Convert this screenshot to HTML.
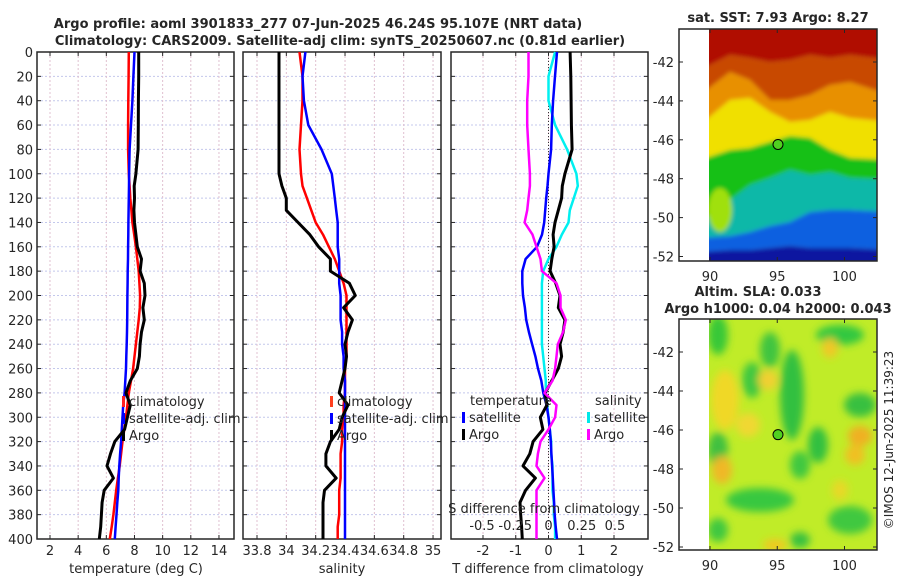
<!DOCTYPE html>
<html><head><meta charset="utf-8"><style>
body{margin:0;background:#fff;width:900px;height:580px;overflow:hidden;font-family:"DejaVu Sans","Liberation Sans",sans-serif}
svg text{font-family:"DejaVu Sans","Liberation Sans",sans-serif;fill:#262626}
</style></head><body>
<svg id="chart" width="900" height="580" viewBox="0 0 900 580">
<defs>
<filter id="blur" x="-10%" y="-10%" width="120%" height="120%"><feGaussianBlur stdDeviation="4"/></filter>
<filter id="blur2" x="-10%" y="-10%" width="120%" height="120%"><feGaussianBlur stdDeviation="2"/></filter>
<clipPath id="clip2"><rect x="709" y="319" width="168" height="231"/></clipPath>
<clipPath id="clip1"><rect x="709" y="29" width="168" height="232"/></clipPath>
</defs>
<text x="318" y="28" font-size="13" font-weight="bold" text-anchor="middle">Argo profile: aoml 3901833_277 07-Jun-2025 46.24S 95.107E (NRT data)</text>
<text x="340" y="45" font-size="13" font-weight="bold" text-anchor="middle">Climatology: CARS2009. Satellite-adj clim: synTS_20250607.nc (0.81d earlier)</text>
<g id="p1"></g>
<g id="p2"></g>
<g id="p3"></g>
<g id="m1"></g>
<g id="m2"></g>
<text x="893" y="440" font-size="12" text-anchor="middle" transform="rotate(-90 893 440)">©IMOS 12-Jun-2025 11:39:23</text>
</svg>
<script>
const depths=[0,20,40,60,80,100,110,120,130,140,150,160,170,180,190,200,210,220,230,240,250,260,270,280,290,300,310,320,330,340,350,360,370,380,390,400];
const tClim=[7.6,7.58,7.56,7.55,7.55,7.6,7.65,7.7,7.78,7.85,7.98,8.1,8.2,8.3,8.35,8.4,8.38,8.3,8.2,8.1,8.0,7.9,7.75,7.6,7.5,7.4,7.28,7.15,7.05,6.95,6.82,6.7,6.6,6.5,6.38,6.25];
const tSat=[8.0,7.92,7.85,7.75,7.65,7.62,7.61,7.6,7.58,7.57,7.56,7.55,7.54,7.52,7.51,7.5,7.49,7.48,7.47,7.45,7.42,7.4,7.35,7.3,7.2,7.15,7.1,7.05,6.98,6.92,6.88,6.85,6.78,6.72,6.66,6.6];
const tArgo=[8.3,8.3,8.28,8.27,8.26,8.1,7.98,8.0,7.96,8.0,8.1,8.2,8.5,8.4,8.7,8.75,8.6,8.7,8.5,8.4,8.35,8.2,7.7,7.4,7.7,7.5,7.3,6.6,6.3,6.05,6.5,5.85,5.7,5.65,5.6,5.5];
const sClim=[34.09,34.11,34.11,34.10,34.09,34.10,34.11,34.14,34.17,34.20,34.25,34.29,34.33,34.36,34.39,34.41,34.41,34.41,34.41,34.41,34.41,34.40,34.40,34.40,34.39,34.39,34.38,34.38,34.37,34.37,34.37,34.36,34.36,34.36,34.35,34.35];
const sSat=[34.13,34.11,34.12,34.15,34.24,34.31,34.32,34.33,34.34,34.35,34.35,34.35,34.36,34.36,34.36,34.37,34.37,34.37,34.38,34.38,34.39,34.39,34.40,34.40,34.40,34.40,34.40,34.40,34.40,34.40,34.40,34.40,34.40,34.40,34.40,34.40];
const sArgo=[33.95,33.95,33.95,33.95,33.95,33.95,33.97,34.0,34.0,34.08,34.16,34.22,34.3,34.3,34.43,34.47,34.39,34.45,34.42,34.40,34.41,34.40,34.38,34.36,34.42,34.38,34.36,34.30,34.27,34.27,34.34,34.26,34.25,34.25,34.25,34.25];
const dTSat=[0.26,0.2,0.14,0.1,0.08,0.0,-0.03,-0.07,-0.1,-0.13,-0.2,-0.35,-0.7,-0.8,-0.8,-0.78,-0.72,-0.68,-0.6,-0.5,-0.4,-0.32,-0.22,-0.16,-0.06,0.0,0.04,0.07,0.09,0.11,0.13,0.15,0.17,0.19,0.22,0.26];
const dTArgo=[0.66,0.68,0.69,0.7,0.72,0.5,0.42,0.4,0.3,0.2,0.14,0.17,0.1,0.05,0.22,0.35,0.3,0.5,0.45,0.35,0.4,0.3,0.1,-0.1,-0.05,-0.25,-0.17,-0.47,-0.57,-0.78,-0.4,-0.7,-0.87,-0.85,-0.82,-0.8];
const dSSat=[0.05,0.0,0.0,0.05,0.14,0.21,0.22,0.19,0.16,0.15,0.1,0.06,0.0,-0.04,-0.05,-0.05,-0.05,-0.05,-0.05,-0.05,-0.04,-0.03,-0.02,-0.02,-0.01,0.0,0.01,0.02,0.02,0.03,0.03,0.03,0.04,0.04,0.05,0.05];
const dSArgo=[-0.15,-0.15,-0.16,-0.16,-0.15,-0.14,-0.14,-0.15,-0.16,-0.18,-0.12,-0.09,-0.06,-0.05,0.06,0.09,0.09,0.13,0.11,0.07,0.06,0.05,0.03,-0.03,0.06,0.05,0.0,-0.06,-0.08,-0.09,-0.03,-0.09,-0.09,-0.09,-0.09,-0.09];
const depthTicks=[0,20,40,60,80,100,120,140,160,180,200,220,240,260,280,300,320,340,360,380,400];
const tTicks=[2,4,6,8,10,12,14];
const sTicks=[33.8,34,34.2,34.4,34.6,34.8,35];
const sTickLabels=["33.8","34","34.2","34.4","34.6","34.8","35"];
const dTTicks=[-2,-1,0,1,2];
const dSTicks=[-0.5,-0.25,0,0.25,0.5];
const NS='http://www.w3.org/2000/svg';
function mk(p,tag,at){const e=document.createElementNS(NS,tag);for(const k in at)e.setAttribute(k,at[k]);p.appendChild(e);return e;}
const yD=d=>52+d*1.2175;
function panel(g,x0,x1,xs,ticks,labels,showY){
  for(const d of depthTicks){
    const l=mk(g,'line',{x1:x0,x2:x1,y1:yD(d),y2:yD(d),stroke:'#c4c8ec','stroke-dasharray':'2,2','stroke-width':1});
    
    mk(g,'line',{x1:x0,x2:x0+4,y1:yD(d),y2:yD(d),stroke:'#262626'});
    mk(g,'line',{x1:x1-4,x2:x1,y1:yD(d),y2:yD(d),stroke:'#262626'});
    if(showY){const t=mk(g,'text',{x:x0-4,y:yD(d)+5,'font-size':13,'text-anchor':'end'});t.textContent=d;
      }
  }
  ticks.forEach((v,i)=>{const x=xs(v);
    const l=mk(g,'line',{x1:x,x2:x,y1:52,y2:539,stroke:'#e0c0d0','stroke-dasharray':'2,2'});
    
    mk(g,'line',{x1:x,x2:x,y1:535,y2:539,stroke:'#262626'});mk(g,'line',{x1:x,x2:x,y1:52,y2:56,stroke:'#262626'});
    if(labels){const t=mk(g,'text',{x:x,y:555,'font-size':13,'text-anchor':'middle'});t.textContent=labels[i];
      }
  });
  const r=mk(g,'rect',{x:x0,y:52,width:x1-x0,height:487,fill:'none',stroke:'#262626','stroke-width':1.5});
  
}
function line(g,xs,vals,col,w,name){
  const pts=vals.map((v,i)=>xs(v).toFixed(1)+','+yD(depths[i]).toFixed(1)).join(' ');
  const p=mk(g,'polyline',{points:pts,fill:'none',stroke:col,'stroke-width':w,'stroke-linejoin':'round'});
  
}
function leg(g,x,y,col,txt){
  mk(g,'rect',{x:x,y:y-10,width:3,height:11,fill:col});
  const t=mk(g,'text',{x:x+7,y:y,'font-size':13});t.textContent=txt;
  
}
function txt(g,x,y,s,name,anchor,size){const t=mk(g,'text',{x:x,y:y,'font-size':size||13,'text-anchor':anchor||'middle'});t.textContent=s;
  }
// panel 1
const p1=document.getElementById('p1');const xT=t=>50+(t-2)*14.08;
panel(p1,37,234,xT,tTicks,tTicks,true);
line(p1,xT,tClim,'#ff0000',2.5,'climatology-line');
line(p1,xT,tSat,'#0000ff',2.5,'satellite-adj-line');
line(p1,xT,tArgo,'#000000',3,'argo-line');
leg(p1,122,406,'#ff2020','climatology');leg(p1,122,423,'#0000ff','satellite-adj. clim');leg(p1,122,440,'#000','Argo');
txt(p1,136,573,'temperature (deg C)','x-axis-title');
// panel 2
const p2=document.getElementById('p2');const xS=s=>257+(s-33.8)*146.7;
panel(p2,243,441,xS,sTicks,sTickLabels,false);
line(p2,xS,sClim,'#ff0000',2.5,'climatology-line');
line(p2,xS,sSat,'#0000ff',2.5,'satellite-adj-line');
line(p2,xS,sArgo,'#000000',3,'argo-line');
leg(p2,330,406,'#ff4020','climatology');leg(p2,330,423,'#0000ff','satellite-adj. clim');leg(p2,330,440,'#000','Argo');
txt(p2,342,573,'salinity','x-axis-title');
// panel 3
const p3=document.getElementById('p3');const xdT=v=>548.5+v*32.75;const xdS=v=>548.5+v*133;
panel(p3,451,648,xdT,dTTicks,dTTicks,false);
mk(p3,'line',{x1:548.5,x2:548.5,y1:52,y2:539,stroke:'#333','stroke-dasharray':'1,2'});
line(p3,xdS,dSSat,'#00f0f0',2.5,'salinity-satellite-diff-line');
line(p3,xdT,dTSat,'#0000ff',2.5,'temperature-satellite-diff-line');
line(p3,xdT,dTArgo,'#000000',3,'temperature-argo-diff-line');
line(p3,xdS,dSArgo,'#ff00ff',2.5,'salinity-argo-diff-line');
txt(p3,470,405,'temperature','legend-title','start');txt(p3,595,405,'salinity','legend-title','start');
leg(p3,462,422,'#0000ff','satellite');leg(p3,462,439,'#000','Argo');
leg(p3,587,422,'#00e8e8','satellite');leg(p3,587,439,'#ff00ff','Argo');
txt(p3,544,513,'S difference from climatology','s-axis-title');
dSTicks.forEach(v=>txt(p3,xdS(v),530,String(v),'s-tick-label'));
txt(p3,548,573,'T difference from climatology','x-axis-title');
// maps
function mapFrame(g,y0,y1,latY){
  const r=mk(g,'rect',{x:679,y:y0,width:198,height:y1-y0,fill:'none',stroke:'#262626','stroke-width':1.5});
  
  [-42,-44,-46,-48,-50,-52].forEach(l=>{const y=latY(l);mk(g,'line',{x1:679,x2:683,y1:y,y2:y,stroke:'#262626'});mk(g,'line',{x1:873,x2:877,y1:y,y2:y,stroke:'#262626'});
    txt(g,674,y+5,String(l),'lat-tick-label','end');});
  [90,95,100].forEach(l=>{const x=710+(l-90)*13.45;mk(g,'line',{x1:x,x2:x,y1:y1-4,y2:y1,stroke:'#262626'});mk(g,'line',{x1:x,x2:x,y1:y0,y2:y0+4,stroke:'#262626'});
    txt(g,x,y1+20,String(l),'lon-tick-label');});
}
const m1=document.getElementById('m1');
const m1in=mk(m1,'g',{'clip-path':'url(#clip1)'});
const m1b=mk(m1in,'g',{filter:'url(#blur2)'});
const bandColors=['#b00800','#c84800','#e89000','#f0e000','#18c018','#10b8a8','#1060e0','#0818a0'];
const bandEdges=[[20,20,20,20,20,20,20,20,20],[70,55,58,62,60,55,58,55,60],[95,72,80,100,100,95,85,82,95],[125,100,98,112,122,120,112,118,122],[160,150,148,142,136,138,150,158,160],[222,200,185,178,170,175,172,178,180],[238,236,232,226,222,212,210,210,212],[252,250,250,248,246,248,248,248,250],[270,270,270,270,270,270,270,270,270]];
const bandX=[700,730,750,770,790,810,830,850,890];
for(let b=0;b<8;b++){
  const top=bandX.map((x,i)=>x+','+bandEdges[b][i]).join(' ');
  const bot=bandX.slice().reverse().map((x,i)=>x+','+bandEdges[b+1][8-i]).join(' ');
  const p=mk(m1b,'polygon',{points:top+' '+bot,fill:bandColors[b]});
  
}
mk(m1b,'ellipse',{cx:720,cy:210,rx:12,ry:22,fill:'#a0e010'});
const lat1=l=>62+(-42-l)*19.45;
mapFrame(m1,29,261,lat1);
txt(m1,778,22,'sat. SST: 7.93 Argo: 8.27','map-title',null,13);
m1.lastChild.setAttribute('font-weight','bold');
const c1=mk(m1,'circle',{cx:778,cy:lat1(-46.24),r:5,fill:'#50d020',stroke:'#000'});

const m2=document.getElementById('m2');
const m2in=mk(m2,'g',{'clip-path':'url(#clip2)'});
mk(m2in,'rect',{x:709,y:319,width:168,height:231,fill:'#c0ec28'});
const m2b=mk(m2in,'g',{filter:'url(#blur)'});
const blobs=[[718,335,10,20,'#38c838'],[752,380,10,18,'#40c840'],[770,350,10,18,'#40c440'],[792,395,12,45,'#30c040'],[840,335,24,10,'#30c840'],[860,405,16,12,'#38c040'],[718,450,10,18,'#40c040'],[818,445,10,18,'#30c040'],[760,500,34,12,'#38c840'],[850,520,22,14,'#40c840'],[718,530,10,12,'#40c840'],[800,465,10,14,'#40c840'],[800,540,10,8,'#38c040']];
const yBlobs=[[725,400,14,30,'#f0d828'],[748,425,12,12,'#f0d830'],[768,380,10,10,'#f0d030'],[830,348,8,10,'#f0c828'],[860,436,12,10,'#f0b020'],[722,470,10,14,'#f0b828'],[855,455,10,10,'#f0c020'],[775,545,12,6,'#f0c820'],[840,490,8,10,'#e8d828']];
blobs.concat(yBlobs).forEach(b=>{const e=mk(m2b,'ellipse',{cx:b[0],cy:b[1],rx:b[2],ry:b[3],fill:b[4]});
  });
const lat2=l=>352+(-42-l)*19.5;
mapFrame(m2,319,550,lat2);
txt(m2,758,296,'Altim. SLA: 0.033','map-title');m2.lastChild.setAttribute('font-weight','bold');
txt(m2,778,313,'Argo h1000: 0.04 h2000: 0.043','map-subtitle');m2.lastChild.setAttribute('font-weight','bold');
const c2=mk(m2,'circle',{cx:778,cy:lat2(-46.24),r:5,fill:'#50d020',stroke:'#000'});

</script>
</body></html>
